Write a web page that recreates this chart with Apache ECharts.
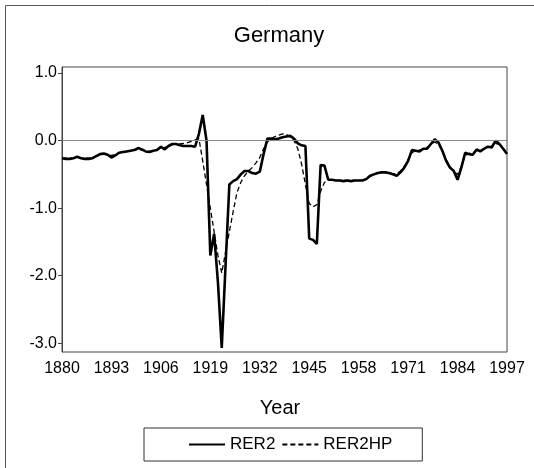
<!DOCTYPE html>
<html>
<head>
<meta charset="utf-8">
<script src="https://cdn.jsdelivr.net/npm/echarts@6/dist/echarts.min.js"></script>
<style>
  html, body { margin: 0; padding: 0; background: #fff; }
  #chart { width: 534px; height: 468px; }
</style>
</head>
<body>
<div id="chart"></div>
<script>
// years 1880..1997
var startYear = 1880
var endYear = 1997
var years = []
for (var y = startYear; y <= endYear; y++) years.push(String(y))

var xTickLabels = ['1880', '1893', '1906', '1919', '1932', '1945', '1958', '1971', '1984', '1997']
var yTickValues = [1, 0, -1, -2, -3]

// RER2 (solid)
var rer2 = [
  -0.26, -0.27, -0.27, -0.26, -0.24, -0.26, -0.27, -0.27, -0.26, -0.23,   // 1880-1889
  -0.20, -0.19, -0.21, -0.25, -0.22, -0.18, -0.17, -0.16, -0.15, -0.14,   // 1890-1899
  -0.11, -0.13, -0.16, -0.17, -0.15, -0.14, -0.09, -0.13, -0.08, -0.05,   // 1900-1909
  -0.05, -0.07, -0.08, -0.08, -0.08, -0.09, 0.10, 0.38, 0.00, -1.70,      // 1910-1919
  -1.38, -2.10, -3.07, -1.85, -0.65, -0.60, -0.57, -0.50, -0.45, -0.45,   // 1920-1929
  -0.48, -0.49, -0.46, -0.20, 0.03, 0.03, 0.02, 0.03, 0.05, 0.06,         // 1930-1939
  0.07, 0.03, -0.04, -0.07, -0.08, -1.45, -1.47, -1.53, -0.36, -0.37,     // 1940-1949
  -0.58, -0.58, -0.59, -0.59, -0.60, -0.59, -0.60, -0.59, -0.59, -0.59,   // 1950-1959
  -0.57, -0.52, -0.50, -0.48, -0.47, -0.47, -0.48, -0.50, -0.52, -0.47,   // 1960-1969
  -0.40, -0.30, -0.14, -0.15, -0.16, -0.12, -0.12, -0.05, 0.02, -0.03,    // 1970-1979
  -0.15, -0.30, -0.40, -0.45, -0.58, -0.40, -0.18, -0.20, -0.21, -0.13,   // 1980-1989
  -0.16, -0.12, -0.09, -0.10, 0.00, -0.05, -0.12, -0.20                   // 1990-1997
]

// RER2HP (dashed)
var rer2hp = [
  -0.26, -0.26, -0.26, -0.26, -0.25, -0.26, -0.26, -0.26, -0.25, -0.23,   // 1880-1889
  -0.21, -0.20, -0.21, -0.22, -0.21, -0.18, -0.17, -0.16, -0.15, -0.14,   // 1890-1899
  -0.13, -0.14, -0.15, -0.16, -0.15, -0.13, -0.11, -0.10, -0.08, -0.06,   // 1900-1909
  -0.05, -0.05, -0.04, -0.03, -0.01, 0.01, 0.03, -0.30, -0.65, -1.00,     // 1910-1919
  -1.35, -1.70, -1.96, -1.65, -1.35, -1.05, -0.77, -0.62, -0.52, -0.45,   // 1920-1929
  -0.40, -0.33, -0.25, -0.12, -0.02, 0.03, 0.06, 0.08, 0.10, 0.09,        // 1930-1939
  0.06, 0.00, -0.12, -0.35, -0.65, -0.93, -0.98, -0.95, -0.75, -0.62,     // 1940-1949
  -0.58, -0.58, -0.59, -0.59, -0.59, -0.59, -0.59, -0.59, -0.59, -0.58,   // 1950-1959
  -0.56, -0.53, -0.50, -0.48, -0.47, -0.47, -0.48, -0.49, -0.49, -0.45,   // 1960-1969
  -0.38, -0.28, -0.18, -0.15, -0.14, -0.12, -0.10, -0.05, -0.02, -0.06,   // 1970-1979
  -0.15, -0.28, -0.38, -0.46, -0.50, -0.38, -0.22, -0.19, -0.18, -0.15,   // 1980-1989
  -0.14, -0.12, -0.10, -0.08, -0.04, -0.06, -0.12, -0.18                  // 1990-1997
]

var font = 'Liberation Sans, Arial, sans-serif'

var chart = echarts.init(document.getElementById('chart'))
chart.setOption({
  animation: false,
  backgroundColor: '#fff',
  grid: {
    left: 62,
    top: 67,
    right: 27,
    bottom: 116,
    show: true,
    borderColor: '#444',
    borderWidth: 1
  },
  graphic: [
    // outer frame (left + top)
    { type: 'polyline', shape: { points: [[5.5, 468], [5.5, 5.5], [534, 5.5]] }, style: { stroke: '#555', lineWidth: 1, fill: null }, silent: true },
    { type: 'text', x: 279, y: 36, style: { text: 'Germany', font: '22px ' + font, fill: '#000', textAlign: 'center', textVerticalAlign: 'middle' } },
    { type: 'text', x: 280, y: 408, style: { text: 'Year', font: '20px ' + font, fill: '#000', textAlign: 'center', textVerticalAlign: 'middle' } }
  ],
  legend: {
    left: 144,
    top: 428,
    width: 282,
    padding: [8, 30, 8, 44],
    borderColor: '#333',
    borderWidth: 1,
    itemWidth: 36,
    itemHeight: 10,
    itemGap: 6,
    itemStyle: { opacity: 0 },
    textStyle: { fontFamily: font, fontSize: 17, color: '#000' },
    data: ['RER2', 'RER2HP']
  },
  xAxis: {
    type: 'category',
    data: years,
    boundaryGap: false,
    axisLine: { lineStyle: { color: '#444', width: 1 } },
    axisTick: { show: false },
    splitLine: { show: false },
    axisLabel: {
      margin: 9,
      fontFamily: font,
      fontSize: 16,
      color: '#000',
      interval: function (idx, val) { return xTickLabels.indexOf(val) >= 0 }
    }
  },
  yAxis: {
    type: 'value',
    min: -3.13,
    max: 1.09,
    axisLine: { show: true, lineStyle: { color: '#444', width: 1 } },
    axisTick: { show: true, length: 4, customValues: yTickValues, lineStyle: { color: '#444' } },
    splitLine: { show: false },
    axisLabel: {
      margin: 5,
      fontFamily: font,
      fontSize: 16,
      color: '#000',
      customValues: yTickValues,
      formatter: function (v) { return v.toFixed(1) }
    }
  },
  series: [
    {
      name: 'RER2',
      type: 'line',
      data: rer2,
      symbol: 'none',
      z: 3,
      lineStyle: { color: '#000', width: 2.6, type: 'solid' },
      itemStyle: { color: '#000' },
      markLine: {
        silent: true,
        symbol: 'none',
        label: { show: false },
        lineStyle: { color: '#888', width: 1, type: 'solid' },
        data: [{ yAxis: 0 }]
      }
    },
    {
      name: 'RER2HP',
      type: 'line',
      data: rer2hp,
      symbol: 'none',
      z: 2,
      lineStyle: { color: '#000', width: 1.3, type: [5, 3] },
      itemStyle: { color: '#000' }
    }
  ]
})
</script>
</body>
</html>
